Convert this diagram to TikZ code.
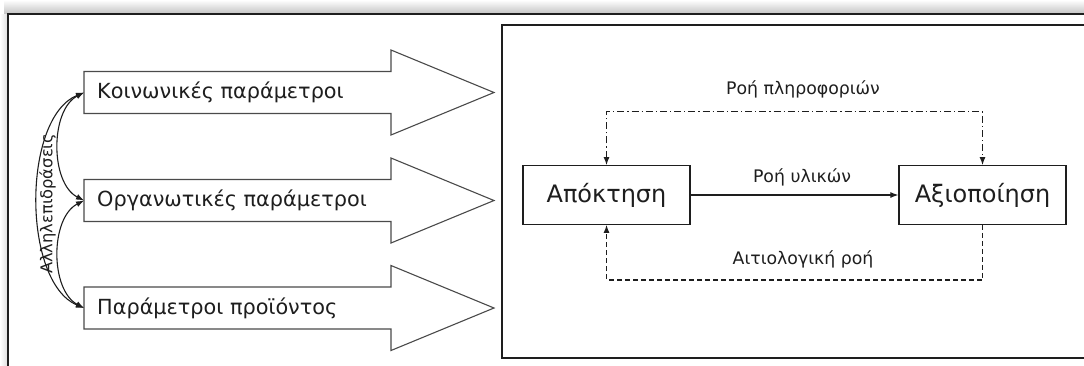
\documentclass[tikz,border=0pt]{standalone}
\usepackage{fontspec}
\setmainfont{DejaVu Sans}
\usetikzlibrary{arrows.meta}

\definecolor{ink}{HTML}{1E1E1E}
\definecolor{outline}{HTML}{4A4A4A}

\tikzset{
  frameline/.style={draw=ink, line width=1.6pt},
  arrowline/.style={draw=outline, line width=1.1pt, fill=white, line join=miter},
  armtext/.style={anchor=west, inner sep=0pt, text=ink, font=\fontsize{20.8}{24}\selectfont},
  stagebox/.style={draw=ink, line width=1.3pt, minimum width=167pt, minimum height=58.6pt,
                   inner sep=0pt, text=ink, font=\fontsize{24}{28}\selectfont},
  flowlabel/.style={inner sep=0pt, text=ink, font=\fontsize{17.3}{20}\selectfont},
  tip/.style={-{Latex[length=8pt,width=6pt]}},
  bothtips/.style={{Latex[length=8pt,width=6pt]}-{Latex[length=8pt,width=6pt]}},
  infoflow/.style={draw=ink, line width=1.1pt, dash pattern=on 7pt off 3pt on 1.2pt off 3pt},
  causalflow/.style={draw=ink, line width=1.1pt, dash pattern=on 5pt off 3pt},
  linkcurve/.style={draw=ink, line width=1.1pt, {Latex[length=8pt,width=6pt]}-{Latex[length=8pt,width=6pt]}},
  bigarrow/.pic={
    \path[arrowline] (0,-21) -- (307,-21) -- (307,-42.5) -- (410,0)
      -- (307,42.5) -- (307,21) -- (0,21) -- cycle;
  }
}

\begin{document}
\begin{tikzpicture}[x=1pt,y=-1pt]
\useasboundingbox (0,0) rectangle (1084,365);
\clip (0,0) rectangle (1084,365);

% soft shadow along the top and left of the frame
\shade[top color=white, bottom color=black!24] (4,0) rectangle (1084,14);
\shade[left color=white, right color=black!14] (0,14) rectangle (8,365);
\fill[white] (8,14) rectangle (1084,365);

% outer frame and the process panel
\path[frameline] (1090,14) -- (8,14) -- (8,370);
\path[frameline] (1090,25) -- (502,25) -- (502,358) -- (1090,358);

% three parameter arrows
\pic at (84,92.5) {bigarrow};
\pic at (84,200.5) {bigarrow};
\pic at (84,308) {bigarrow};
\coordinate (a1) at (84,92.5);
\coordinate (a2) at (84,200.5);
\coordinate (a3) at (84,308);
\node[armtext] (soc) at (97,92.5) {Κοινωνικές παράμετροι};
\node[armtext] (org) at (97,200.5) {Οργανωτικές παράμετροι};
\node[armtext] (prod) at (97,308) {Παράμετροι προϊόντος};

% interactions between the parameter groups
\path[linkcurve] (a1) .. controls (22,118) and (22,282) .. (a3);
\path[linkcurve] (a1) .. controls (50,110) and (50,183) .. (a2);
\path[linkcurve] (a2) .. controls (50,218) and (50,290) .. (a3);
\node[rotate=90, inner sep=0pt, text=ink, font=\fontsize{16.3}{19}\selectfont] (inter) at (47.5,204) {Αλληλεπιδράσεις};

% acquisition and utilisation
\node[stagebox] (acq) at (606.5,195) {Απόκτηση};
\node[stagebox] (val) at (982.5,195) {Αξιοποίηση};
\coordinate (tl) at (606.5,111.7);
\coordinate (tr) at (982.5,111.7);
\coordinate (bl) at (606.5,280);
\coordinate (br) at (982.5,280);

\draw[ink, line width=1.1pt, tip] (acq) -- (val);
\node[flowlabel] (mat) at (802,177) {Ροή υλικών};

\draw[infoflow, bothtips] (acq.north) -- (tl) -- (tr) -- (val.north);
\node[flowlabel] (info) at (803,89) {Ροή πληροφοριών};

\draw[causalflow, tip] (val.south) -- (br) -- (bl) -- (acq.south);
\node[flowlabel] (cause) at (803,259) {Αιτιολογική ροή};
\end{tikzpicture}
\end{document}
